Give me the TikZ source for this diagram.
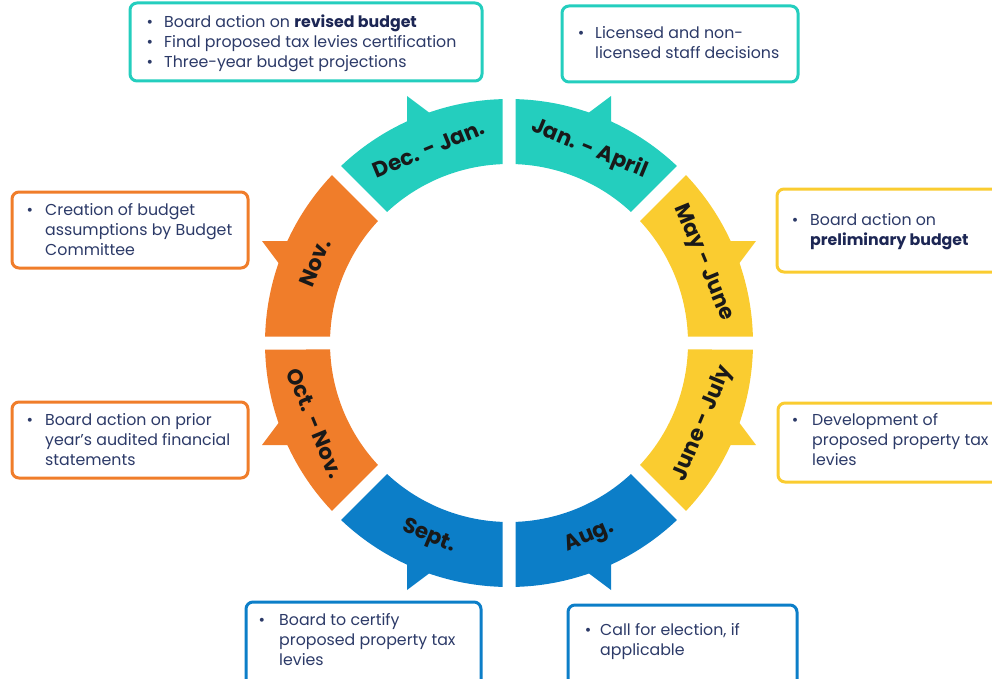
\documentclass[tikz,border=0pt]{standalone}
\usepackage{fontspec}
\setmainfont{Poppins}
\definecolor{teal1}{RGB}{36,206,190}
\definecolor{orng}{RGB}{240,125,42}
\definecolor{yell}{RGB}{250,204,48}
\definecolor{blu}{RGB}{12,126,200}
\definecolor{navy}{RGB}{44,58,104}
\definecolor{navyb}{RGB}{28,38,84}
\begin{document}
\begin{tikzpicture}[x=1pt,y=-1pt,
  infobox/.style={draw=#1, line width=3pt, rounded corners=7pt, fill=white},
  infotext/.style={anchor=north west, inner sep=0pt, align=left, text=navy, font=\fontsize{15.8}{20}\selectfont},
  bul/.style={anchor=base, inner sep=0pt, text=navy, font=\fontsize{15.8}{20}\selectfont},
  seglabel/.style={font=\fontsize{21.5}{24}\selectfont\bfseries, text=black!90, inner sep=0pt}]
\useasboundingbox (0,0) rectangle (992,679);

% ring
\begin{scope}[shift={(509,343)}, y=1pt]
  \foreach \a/\c in {45/teal1, 90/teal1, 135/orng, 180/orng, 225/blu, 270/blu, 315/yell, 0/yell} {
    \fill[\c] ({\a+1.527}:244) arc[start angle=\a+1.527, end angle=\a+45-1.527, radius=244]
      -- ({\a+45-2.081}:179) arc[start angle=\a+45-2.081, end angle=\a+2.081, radius=179] -- cycle;
  }
  % pointers
  \fill[teal1] (-102,247) -- (-102,205) -- (-66,220) -- cycle;
  \fill[teal1] (102,247) -- (102,205) -- (66,220) -- cycle;
  \fill[orng] (-247,102) -- (-205,102) -- (-220,66) -- cycle;
  \fill[orng] (-247,-102) -- (-205,-102) -- (-220,-66) -- cycle;
  \fill[yell] (247,102) -- (205,102) -- (220,66) -- cycle;
  \fill[yell] (247,-102) -- (205,-102) -- (220,-66) -- cycle;
  \fill[blu] (-102,-247) -- (-102,-205) -- (-66,-220) -- cycle;
  \fill[blu] (102,-247) -- (102,-205) -- (66,-220) -- cycle;
  % labels
  \node[seglabel, rotate=22.5] (l1) at (112.5:210) {Dec. - Jan.};
  \node[seglabel, rotate=-22.5] (l2) at (67.5:210) {Jan. - April};
  \node[seglabel, rotate=-67.5] (l3) at (22.5:210) {May - June};
  \node[seglabel, rotate=67.5] (l4) at (-22.5:210) {June - July};
  \node[seglabel, rotate=22.5] (l5) at (-67.5:210) {Aug.};
  \node[seglabel, rotate=-22.5] (l6) at (-112.5:210) {Sept.};
  \node[seglabel, rotate=-67.5] (l7) at (-157.5:210) {Oct. - Nov.};
  \node[seglabel, rotate=67.5] (l8) at (157.5:210) {Nov.};
\end{scope}

% boxes
\draw[infobox=teal1] (130,3) rectangle (482,81);
\draw[infobox=teal1] (562,6) rectangle (798,82);
\draw[infobox=orng] (12,192) rectangle (248,268);
\draw[infobox=yell] (777,189) rectangle (1000,272);
\draw[infobox=orng] (12,402) rectangle (248,478);
\draw[infobox=yell] (778,403) rectangle (1000,482);
\draw[infobox=blu] (246,602) rectangle (481,695);
\draw[infobox=blu] (568,605) rectangle (797,695);

% texts
\node[infotext] (t1) at (164,13.5) {\strut Board action on \textbf{\color{navyb}revised budget}\\Final proposed tax levies certification\\Three-year budget projections};
\node[bul] (b1) at (150,27.5) {\textbullet};
\node[bul] (b1b) at (150,47.5) {\textbullet};
\node[bul] (b1c) at (150,67.5) {\textbullet};
\node[infotext] (t2) at (595,24.5) {\strut Licensed and non-\\licensed staff decisions};
\node[bul] (b2) at (581,38.5) {\textbullet};
\node[infotext] (t3) at (45,201.5) {\strut Creation of budget\\assumptions by Budget\\Committee};
\node[bul] (b3) at (30,215.5) {\textbullet};
\node[infotext] (t4) at (810,211.5) {\strut Board action on\\\textbf{\color{navyb}preliminary budget}};
\node[bul] (b4) at (795,225.5) {\textbullet};
\node[infotext] (t5) at (45,411.5) {\strut Board action on prior\\year’s audited financial\\statements};
\node[bul] (b5) at (30,425.5) {\textbullet};
\node[infotext] (t6) at (812,411.5) {\strut Development of\\proposed property tax\\levies};
\node[bul] (b6) at (795,425.5) {\textbullet};
\node[infotext] (t7) at (279,611.5) {\strut Board to certify\\proposed property tax\\levies};
\node[bul] (b7) at (262,625.5) {\textbullet};
\node[infotext] (t8) at (600,621.5) {\strut Call for election, if\\applicable};
\node[bul] (b8) at (588,635.5) {\textbullet};
\end{tikzpicture}
\end{document}
